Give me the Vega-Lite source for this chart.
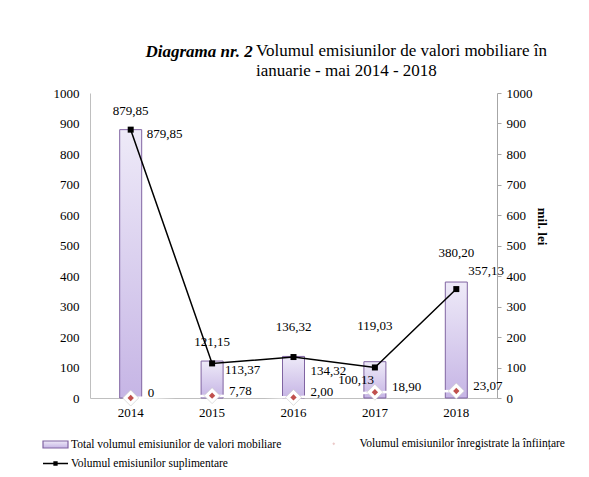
{
  "$schema": "https://vega.github.io/schema/vega-lite/v6.json",
  "width": 407,
  "height": 305,
  "autosize": {"type": "none"},
  "padding": {"left": 90, "top": 93, "right": 92, "bottom": 79},
  "background": "white",
  "config": {
    "view": {"stroke": null},
    "font": "Liberation Serif",
    "mark": {"font": "Liberation Serif"},
    "locale": {"number": {"decimal": ",", "thousands": ".", "grouping": [3], "currency": ["", ""]}},
    "text": {"font": "Liberation Serif", "fontSize": 13, "color": "black", "baseline": "middle"},
    "legend": {"title": null, "labelFont": "Liberation Serif", "labelFontSize": 11.5, "labelColor": "black", "labelLimit": 400}
  },
  "title": {
    "text": ["Volumul emisiunilor de valori mobiliare în", "ianuarie - mai 2014 - 2018"],
    "anchor": "start",
    "align": "left",
    "frame": "group",
    "dx": 166,
    "dy": 41,
    "offset": 3,
    "font": "Liberation Serif",
    "fontSize": 17,
    "fontStyle": "normal",
    "fontWeight": "normal",
    "color": "black",
    "lineHeight": 20
  },
  "data": {
    "values": [
      {"an": "2014", "total": 879.85, "suplimentare": 879.85, "infiintare": 0},
      {"an": "2015", "total": 121.15, "suplimentare": 113.37, "infiintare": 7.78},
      {"an": "2016", "total": 136.32, "suplimentare": 134.32, "infiintare": 2.00},
      {"an": "2017", "total": 119.03, "suplimentare": 100.13, "infiintare": 18.90},
      {"an": "2018", "total": 380.20, "suplimentare": 357.13, "infiintare": 23.07}
    ]
  },
  "encoding": {
    "x": {
      "field": "an", "type": "nominal",
      "scale": {"paddingInner": 0, "paddingOuter": 0},
      "axis": {"title": null, "labelAngle": 0, "ticks": false, "domainColor": "#bfbfbf", "labelPadding": 8, "labelFont": "Liberation Serif", "labelFontSize": 13, "labelColor": "black"}
    }
  },
  "layer": [
    {
      "mark": {"type": "bar", "width": 22, "strokeWidth": 1,
        "fill": {"gradient": "linear", "x1": 0, "y1": 0, "x2": 0, "y2": 1,
          "stops": [{"offset": 0, "color": "#eeeaf8"}, {"offset": 1, "color": "#c6b5e5"}]}},
      "encoding": {
        "y": {"field": "total", "type": "quantitative",
          "scale": {"domain": [0, 1000]},
          "axis": {"values": [0, 100, 200, 300, 400, 500, 600, 700, 800, 900, 1000], "format": "d", "grid": false, "ticks": false, "domainColor": "#bfbfbf", "labelPadding": 11, "labelFont": "Liberation Serif", "labelFontSize": 13, "labelColor": "black",
            "title": "Diagrama nr. 2", "titleFont": "Liberation Serif", "titleFontSize": 17, "titleFontStyle": "italic", "titleFontWeight": "bold", "titleColor": "black", "titleAngle": 0, "titleAlign": "left", "titleBaseline": "alphabetic", "titleX": 55, "titleY": -37}},
        "stroke": {
          "datum": "Total volumul emisiunilor de valori mobiliare",
          "type": "nominal",
          "scale": {"domain": ["Total volumul emisiunilor de valori mobiliare"], "range": ["#8064A2"]},
          "legend": {
            "orient": "none", "legendX": -48, "legendY": 338,
            "symbolType": "M-1,-0.28H1V0.28H-1Z", "symbolSize": 625, "symbolStrokeWidth": 1.2,
            "labelOffset": 2
          }
        }
      }
    },
    {
      "transform": [{"filter": {"field": "an", "oneOf": ["2014", "2015"]}}],
      "mark": {"type": "text", "dy": -19, "font": "Liberation Serif"},
      "encoding": {
        "y": {"field": "total", "type": "quantitative", "scale": {"domain": [0, 1000]}, "axis": null},
        "text": {"field": "total", "type": "quantitative", "format": ".2f"}
      }
    },
    {
      "transform": [{"filter": {"field": "an", "oneOf": ["2016", "2018"]}}],
      "mark": {"type": "text", "dy": -29, "font": "Liberation Serif"},
      "encoding": {
        "y": {"field": "total", "type": "quantitative", "scale": {"domain": [0, 1000]}, "axis": null},
        "text": {"field": "total", "type": "quantitative", "format": ".2f"}
      }
    },
    {
      "transform": [{"filter": {"field": "an", "oneOf": ["2017"]}}],
      "mark": {"type": "text", "dy": -36, "font": "Liberation Serif"},
      "encoding": {
        "y": {"field": "total", "type": "quantitative", "scale": {"domain": [0, 1000]}, "axis": null},
        "text": {"field": "total", "type": "quantitative", "format": ".2f"}
      }
    },
    {
      "mark": {"type": "line", "strokeWidth": 2.5, "stroke": "#ffffff"},
      "encoding": {
        "y": {"field": "infiintare", "type": "quantitative", "scale": {"domain": [0, 1000]}, "axis": null}
      }
    },
    {
      "mark": {"type": "point", "shape": "diamond", "size": 256, "filled": true, "fill": "#ffffff", "stroke": "#c8c8c8", "strokeWidth": 0.6, "opacity": 1},
      "encoding": {
        "y": {"field": "infiintare", "type": "quantitative", "scale": {"domain": [0, 1000]}, "axis": null}
      }
    },
    {
      "mark": {"type": "point", "filled": true, "size": 40, "fill": "#c0504d", "opacity": 1},
      "encoding": {
        "y": {"field": "infiintare", "type": "quantitative", "scale": {"domain": [0, 1000]}, "axis": null},
        "shape": {
          "datum": "Volumul emisiunilor înregistrate la înființare",
          "type": "nominal",
          "scale": {"domain": ["Volumul emisiunilor înregistrate la înființare"], "range": ["diamond"]},
          "legend": {
            "orient": "none", "legendX": 238, "legendY": 345,
            "symbolType": "circle", "symbolSize": 8, "symbolOpacity": 0.3,
            "labelOffset": 20
          }
        }
      }
    },
    {
      "mark": {"type": "text", "align": "left", "dx": 17, "dy": -5, "font": "Liberation Serif"},
      "encoding": {
        "y": {"field": "infiintare", "type": "quantitative", "scale": {"domain": [0, 1000]}, "axis": null},
        "text": {"condition": {"test": "datum.infiintare === 0", "value": "0"}, "field": "infiintare", "type": "quantitative", "format": ".2f"}
      }
    },
    {
      "mark": {"type": "line", "strokeWidth": 1.5},
      "encoding": {
        "y": {"field": "suplimentare", "type": "quantitative",
          "scale": {"domain": [0, 1000]},
          "axis": {"orient": "right", "values": [0, 100, 200, 300, 400, 500, 600, 700, 800, 900, 1000], "format": "d", "grid": false, "ticks": true, "tickSize": 4, "tickColor": "#a6a6a6", "domainColor": "#a6a6a6", "labelPadding": 5, "labelFont": "Liberation Serif", "labelFontSize": 13, "labelColor": "black",
            "title": "mil. lei", "titleFont": "Liberation Serif", "titleFontSize": 13, "titleFontWeight": "bold", "titleColor": "black", "titleAngle": 90, "titleX": 44, "titleY": 133, "titleAlign": "center", "titleBaseline": "middle"}},
        "color": {
          "datum": "Volumul emisiunilor suplimentare",
          "type": "nominal",
          "scale": {"domain": ["Volumul emisiunilor suplimentare"], "range": ["#000000"]},
          "legend": {
            "orient": "none", "legendX": -48, "legendY": 357,
            "symbolType": "M-1,0H1M-0.12,-0.12H0.12V0.12H-0.12Z", "symbolSize": 625, "symbolStrokeWidth": 1.3,
            "symbolFillColor": "#000000",
            "labelOffset": 2
          }
        }
      }
    },
    {
      "mark": {"type": "point", "shape": "square", "size": 36, "filled": true, "fill": "#000000", "opacity": 1},
      "encoding": {
        "y": {"field": "suplimentare", "type": "quantitative", "scale": {"domain": [0, 1000]}, "axis": null}
      }
    },
    {
      "transform": [{"filter": {"field": "an", "oneOf": ["2014"]}}],
      "mark": {"type": "text", "align": "left", "dx": 16, "dy": 4, "font": "Liberation Serif"},
      "encoding": {
        "y": {"field": "suplimentare", "type": "quantitative", "scale": {"domain": [0, 1000]}, "axis": null},
        "text": {"field": "suplimentare", "type": "quantitative", "format": ".2f"}
      }
    },
    {
      "transform": [{"filter": {"field": "an", "oneOf": ["2015"]}}],
      "mark": {"type": "text", "align": "left", "dx": 13, "dy": 7, "font": "Liberation Serif"},
      "encoding": {
        "y": {"field": "suplimentare", "type": "quantitative", "scale": {"domain": [0, 1000]}, "axis": null},
        "text": {"field": "suplimentare", "type": "quantitative", "format": ".2f"}
      }
    },
    {
      "transform": [{"filter": {"field": "an", "oneOf": ["2016"]}}],
      "mark": {"type": "text", "align": "left", "dx": 17, "dy": 14, "font": "Liberation Serif"},
      "encoding": {
        "y": {"field": "suplimentare", "type": "quantitative", "scale": {"domain": [0, 1000]}, "axis": null},
        "text": {"field": "suplimentare", "type": "quantitative", "format": ".2f"}
      }
    },
    {
      "transform": [{"filter": {"field": "an", "oneOf": ["2017"]}}],
      "mark": {"type": "text", "align": "right", "dx": -1, "dy": 13, "font": "Liberation Serif"},
      "encoding": {
        "y": {"field": "suplimentare", "type": "quantitative", "scale": {"domain": [0, 1000]}, "axis": null},
        "text": {"field": "suplimentare", "type": "quantitative", "format": ".2f"}
      }
    },
    {
      "transform": [{"filter": {"field": "an", "oneOf": ["2018"]}}],
      "mark": {"type": "text", "align": "left", "dx": 12, "dy": -18, "font": "Liberation Serif"},
      "encoding": {
        "y": {"field": "suplimentare", "type": "quantitative", "scale": {"domain": [0, 1000]}, "axis": null},
        "text": {"field": "suplimentare", "type": "quantitative", "format": ".2f"}
      }
    }
  ],
  "resolve": {"scale": {"y": "independent"}}
}
